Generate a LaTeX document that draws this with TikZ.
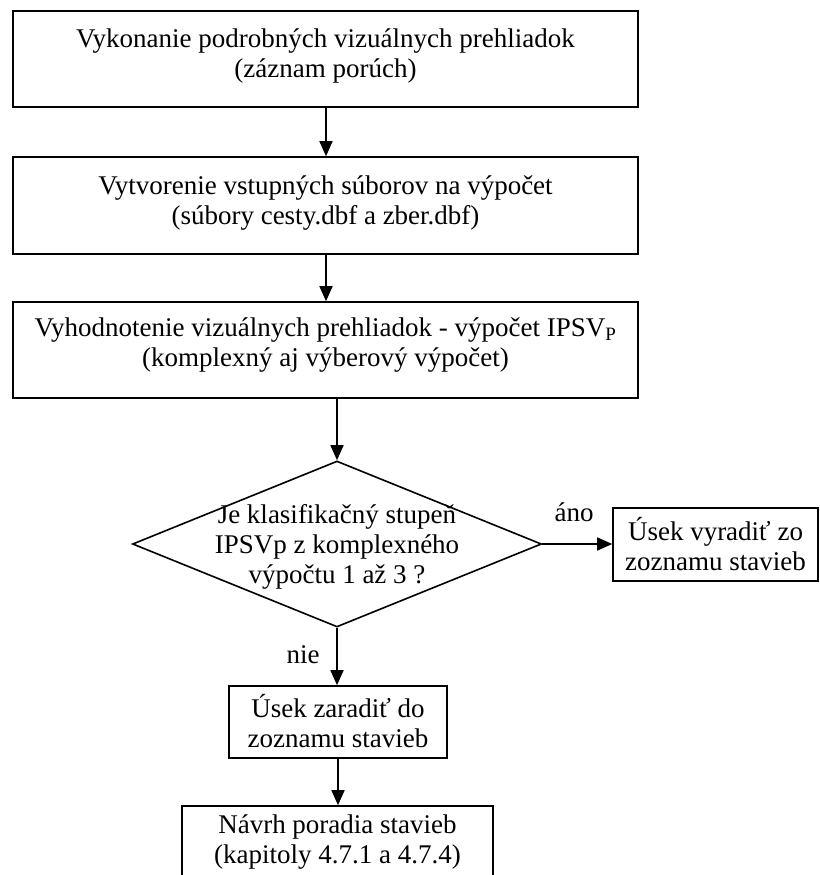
\documentclass[tikz,border=0pt]{standalone}
\usepackage{fontspec}
\setmainfont{Liberation Serif}
\usetikzlibrary{shapes.geometric,arrows.meta}

\tikzset{
  box/.style={draw, line width=1.6pt, rectangle, inner sep=0pt},
  decision/.style={draw, line width=1.6pt, diamond, inner sep=0pt},
  txt/.style={align=center, inner sep=0pt, font=\fontsize{27}{30}\selectfont},
  flow/.style={line width=1.6pt, -{Triangle[length=15pt,width=13pt]}},
}

\begin{document}
\begin{tikzpicture}[x=1pt,y=-1pt]
\useasboundingbox (0,0) rectangle (819,875);

% process boxes
\node[box, minimum width=625pt, minimum height=96pt] (b1) at (325.5,59) {};
\node[txt, anchor=north] (t1) at (325.5,29) {Vykonanie podrobných vizuálnych prehliadok\\(záznam porúch)};

\node[box, minimum width=625pt, minimum height=97pt] (b2) at (325.5,205.5) {};
\node[txt, anchor=north] (t2) at (325.5,176) {Vytvorenie vstupných súborov na výpočet\\(súbory cesty.dbf a zber.dbf)};

\node[box, minimum width=625pt, minimum height=96pt] (b3) at (325.5,350) {};
\node[txt, anchor=north] (t3) at (325.5,318) {Vyhodnotenie vizuálnych prehliadok - výpočet IPSV\textsubscript{P}\\(komplexný aj výberový výpočet)};

% decision
\node[decision, minimum width=409pt, minimum height=166pt] (d) at (337,544) {};
\node[txt] (td) at (337,547) {Je klasifikačný stupeň\\IPSVp z komplexného\\výpočtu 1 až 3 ?};

% branch boxes
\node[box, minimum width=205pt, minimum height=73pt] (b6) at (715.5,544.5) {};
\node[txt] (t6) at (715.5,544) {Úsek vyradiť zo\\zoznamu stavieb};

\node[box, minimum width=218pt, minimum height=72pt] (b4) at (338,722) {};
\node[txt] (t4) at (338,721) {Úsek zaradiť do\\zoznamu stavieb};

\node[box, minimum width=311pt, minimum height=74pt] (b5) at (337.5,843) {};
\node[txt, anchor=north] (t5) at (337.5,815) {Návrh poradia stavieb\\(kapitoly 4.7.1 a 4.7.4)};

% connectors
\draw[flow] (b1.south -| 326,0) -- (b2.north -| 326,0);
\draw[flow] (b2.south -| 326,0) -- (b3.north -| 326,0);
\draw[flow] (b3.south -| d.north) -- (d.north);
\draw[flow] (d.east) -- (b6.west |- d.east);
\draw[flow] (d.south) -- (b4.north -| d.south);
\draw[flow] (b4.south) -- (b5.north -| b4.south);

% branch labels
\node[txt] (yes) at (574,512) {áno};
\node[txt] (no) at (303,655) {nie};
\end{tikzpicture}
\end{document}
